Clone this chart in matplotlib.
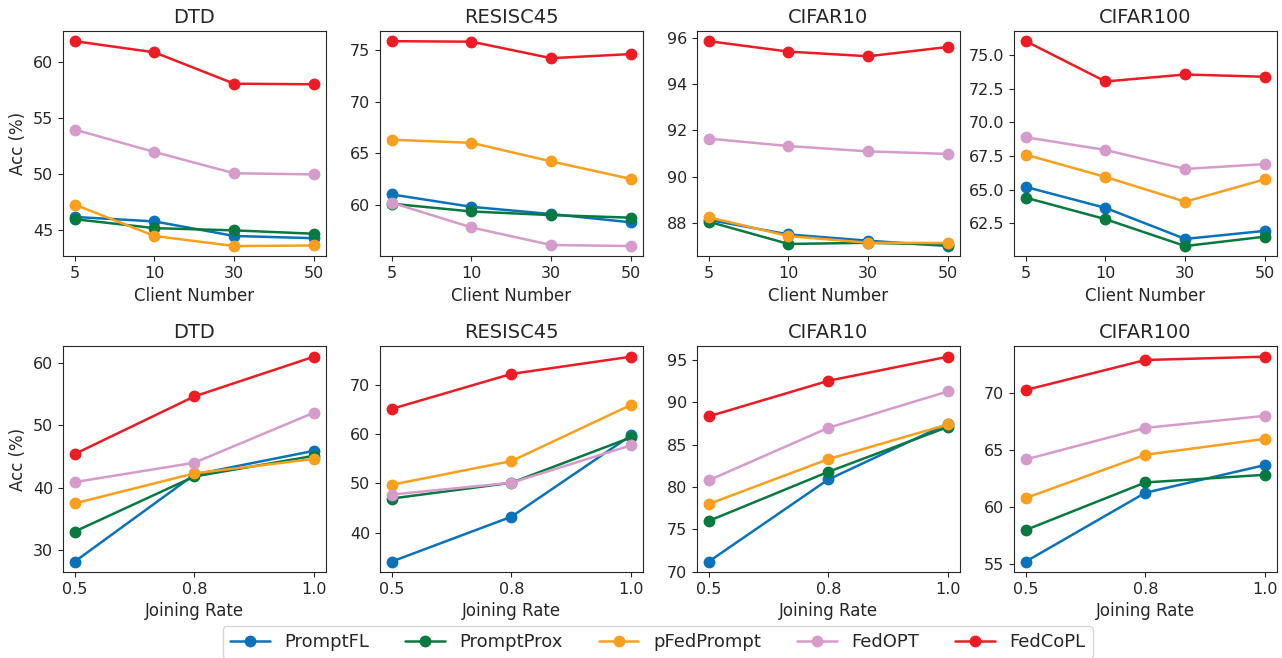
import matplotlib
matplotlib.use('Agg')
import matplotlib.pyplot as plt
import seaborn as sns

# Methods and colours
methods = ['PromptFL', 'PromptProx', 'pFedPrompt', 'FedOPT', 'FedCoPL']
colors = ['#0a72ba', '#08793f', '#f8a01e', '#d59ccb', '#ec1c24']

datasets = ['DTD', 'RESISC45', 'CIFAR10', 'CIFAR100']

# Top row: accuracy vs client number
client_numbers = ['5', '10', '30', '50']
client_dtd = {
    'PromptFL':   [46.2, 45.8, 44.5, 44.3],
    'PromptProx': [46.0, 45.2, 45.0, 44.7],
    'pFedPrompt': [47.3, 44.5, 43.6, 43.65],
    'FedOPT':     [54.0, 52.0, 50.1, 50.0],
    'FedCoPL':    [61.9, 60.9, 58.1, 58.05],
}
client_resisc = {
    'PromptFL':   [61.0, 59.8, 59.1, 58.3],
    'PromptProx': [60.1, 59.35, 59.0, 58.75],
    'pFedPrompt': [66.3, 66.0, 64.2, 62.5],
    'FedOPT':     [60.2, 57.8, 56.1, 56.0],
    'FedCoPL':    [75.85, 75.8, 74.2, 74.6],
}
client_cifar10 = {
    'PromptFL':   [88.15, 87.52, 87.25, 87.02],
    'PromptProx': [88.07, 87.11, 87.16, 87.08],
    'pFedPrompt': [88.26, 87.45, 87.16, 87.15],
    'FedOPT':     [91.65, 91.33, 91.1, 90.99],
    'FedCoPL':    [95.85, 95.4, 95.2, 95.6],
}
client_cifar100 = {
    'PromptFL':   [65.2, 63.64, 61.33, 61.93],
    'PromptProx': [64.4, 62.8, 60.8, 61.5],
    'pFedPrompt': [67.6, 65.94, 64.1, 65.77],
    'FedOPT':     [68.9, 67.95, 66.54, 66.9],
    'FedCoPL':    [76.05, 73.05, 73.57, 73.4],
}

# Bottom row: accuracy vs joining rate
joining_rates = ['0.5', '0.8', '1.0']
rate_dtd = {
    'PromptFL':   [28.2, 42.1, 45.9],
    'PromptProx': [33.0, 41.8, 45.1],
    'pFedPrompt': [37.5, 42.3, 44.6],
    'FedOPT':     [40.9, 44.0, 52.0],
    'FedCoPL':    [45.4, 54.6, 60.95],
}
rate_resisc = {
    'PromptFL':   [34.1, 43.2, 59.7],
    'PromptProx': [46.9, 50.1, 59.3],
    'pFedPrompt': [49.7, 54.5, 65.9],
    'FedOPT':     [47.7, 50.1, 57.7],
    'FedCoPL':    [65.1, 72.2, 75.7],
}
rate_cifar10 = {
    'PromptFL':   [71.2, 80.9, 87.5],
    'PromptProx': [76.0, 81.8, 87.1],
    'pFedPrompt': [78.0, 83.3, 87.4],
    'FedOPT':     [80.8, 87.0, 91.3],
    'FedCoPL':    [88.35, 92.55, 95.4],
}
rate_cifar100 = {
    'PromptFL':   [55.24, 61.25, 63.67],
    'PromptProx': [58.0, 62.15, 62.82],
    'pFedPrompt': [60.79, 64.57, 65.96],
    'FedOPT':     [64.16, 66.92, 67.97],
    'FedCoPL':    [70.23, 72.85, 73.14],
}

client_data = [client_dtd, client_resisc, client_cifar10, client_cifar100]
rate_data = [rate_dtd, rate_resisc, rate_cifar10, rate_cifar100]

sns.set_style('ticks')
plt.rcParams['font.family'] = ['DejaVu Sans']

fig, axes = plt.subplots(2, 4, figsize=(12.82, 6.58), dpi=100)
fig.subplots_adjust(left=0.049, right=0.996, top=0.953, bottom=0.131,
                    wspace=0.205, hspace=0.40)

rows = [(client_numbers, client_data, 'Client Number'),
        (joining_rates, rate_data, 'Joining Rate')]

for r, (xlabels, data, xlabel) in enumerate(rows):
    for c, name in enumerate(datasets):
        ax = axes[r, c]
        x = list(range(len(xlabels)))
        for m, col in zip(methods, colors):
            ax.plot(x, data[c][m], color=col, marker='o', markersize=7.5,
                    linewidth=1.8, label=m)
        ax.set_xticks(x)
        ax.set_xticklabels(xlabels)
        ax.set_title(name, fontsize=14)
        ax.set_xlabel(xlabel, fontsize=12)
        ax.tick_params(labelsize=11.5)
        if c == 0:
            ax.set_ylabel('Acc (%)', fontsize=12)

# Shared legend along the bottom edge
handles, labels = axes[0, 0].get_legend_handles_labels()
fig.legend(handles, labels, loc='upper center', bbox_to_anchor=(0.513, 0.062),
           ncol=5, fontsize=13, frameon=True, handlelength=2.2,
           columnspacing=2.0)

plt.savefig('out.png', dpi=100)
